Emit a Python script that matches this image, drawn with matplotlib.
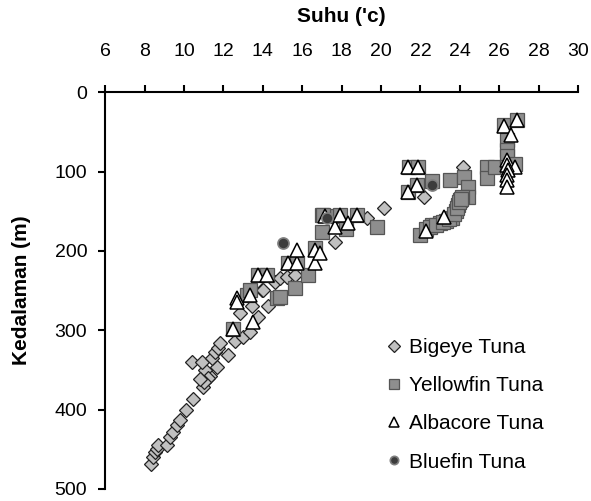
import matplotlib
matplotlib.use("Agg")
import matplotlib.pyplot as plt

plt.rcParams["font.family"] = ["Liberation Sans", "DejaVu Sans"]

# Bigeye Tuna (suhu, kedalaman)
bigeye_t = [8.34, 8.44, 8.54, 8.64, 8.69, 9.15, 9.30, 9.45, 9.65, 9.81, 10.1, 10.47,
            10.97, 11.33, 11.08, 11.69, 10.42, 10.92, 11.43, 11.58, 11.74, 11.84, 12.24,
            12.6, 13.0, 13.36, 12.85, 13.46, 13.77, 14.27, 13.97, 14.0, 14.6, 14.88,
            15.24, 15.64, 17.68, 19.3, 20.16, 22.2, 24.17, 11.2, 11.0, 10.8]
bigeye_d = [469, 460, 454, 449, 444, 444, 434, 428, 419, 413, 400, 386,
            372, 358, 350, 346, 340, 340, 335, 328, 322, 316, 331,
            314, 309, 302, 278, 270, 283, 270, 249, 249, 239, 234,
            233, 230, 189, 158, 146, 132, 94, 360, 365, 362]

# Yellowfin Tuna
yellow_t = [12.5, 13.2, 13.36, 13.77, 14.2, 14.7, 14.88, 15.64, 15.3, 15.75, 16.3,
            16.66, 17.0, 17.0, 17.78, 17.07, 17.93, 18.79, 18.2, 19.8,
            21.4, 21.9, 21.38, 21.84, 22.6, 23.5, 24.2, 24.4, 24.4,
            22.0, 22.3, 22.6, 23.0, 23.3, 23.6, 23.8, 23.9, 24.0, 24.1,
            22.5, 22.8, 23.15, 23.45, 23.7, 23.85, 23.95, 24.05,
            25.4, 25.4, 25.8, 26.4, 26.4, 26.4, 26.4, 26.25, 26.9, 26.8]
yellow_d = [299, 255, 249, 230, 230, 259, 258, 247, 215, 215, 230,
            196, 155, 176, 156, 155, 155, 155, 172, 170,
            94, 94, 126, 117, 112, 111, 107, 119, 132,
            180, 172, 167, 165, 162, 158, 150, 142, 136, 132,
            170, 167, 164, 160, 154, 146, 139, 134,
            94, 108, 94, 60, 73, 81, 94, 41, 35, 90]

# Albacore Tuna
alba_t = [12.5, 12.7, 12.7, 13.36, 13.5, 13.77, 14.2, 15.3, 15.75, 15.75, 16.66,
          16.66, 16.9, 17.17, 17.68, 17.93, 18.79, 18.3, 21.38, 21.89, 21.84, 21.38,
          22.3, 23.2, 26.25, 26.9, 26.6, 26.4, 26.8, 26.4, 26.45, 26.4, 26.4, 26.4]
alba_d = [299, 259, 265, 255, 289, 230, 230, 215, 215, 199, 215,
          199, 203, 156, 170, 155, 155, 165, 94, 94, 117, 126,
          175, 157, 43, 35, 54, 86, 94, 92, 98, 104, 111, 119]

# Bluefin Tuna
blue_t = [15.04, 17.27, 22.6]
blue_d = [190, 158, 117]

fig = plt.figure(figsize=(5.91, 5.01), dpi=100)
ax = fig.add_axes([0.178, 0.024, 0.8, 0.792])

ax.plot(bigeye_t, bigeye_d, "D", ms=7.5, mfc="#c0c0c0", mec="#222222", mew=0.9,
        ls="none", label="Bigeye Tuna")
ax.plot(yellow_t, yellow_d, "s", ms=9.5, mfc="#8e8e8e", mec="#555555", mew=0.9,
        ls="none", label="Yellowfin Tuna")
ax.plot(alba_t, alba_d, "^", ms=10.5, mfc="white", mec="black", mew=1.1,
        ls="none", label="Albacore Tuna")
ax.plot(blue_t, blue_d, "o", ms=8, mfc="#3c3c3c", mec="#808080", mew=1.2,
        ls="none", label="Bluefin Tuna")

ax.set_xlim(6, 30)
ax.set_ylim(500, 0)
ax.set_xticks(range(6, 31, 2))
ax.set_yticks(range(0, 501, 100))
ax.xaxis.tick_top()
ax.xaxis.set_label_position("top")
ax.spines["bottom"].set_visible(False)
ax.spines["right"].set_visible(False)
ax.spines["top"].set_linewidth(1.5)
ax.spines["left"].set_linewidth(1.5)
ax.tick_params(axis="both", labelsize=14, width=1.5, length=5, direction="out")
ax.tick_params(axis="x", pad=18)
ax.tick_params(axis="y", pad=8)
ax.set_xlabel("Suhu ('c)", fontsize=15, fontweight="bold", labelpad=15)
ax.set_ylabel("Kedalaman (m)", fontsize=15, fontweight="bold", labelpad=17)

leg = ax.legend(loc="upper left", frameon=False, fontsize=15, labelspacing=0.92,
                handletextpad=0.4, handlelength=0.6, markerscale=0.75,
                borderpad=0, borderaxespad=0,
                bbox_to_anchor=(388 / 591, 1 - 338 / 501),
                bbox_transform=fig.transFigure)

fig.savefig("out.png", dpi=100)
